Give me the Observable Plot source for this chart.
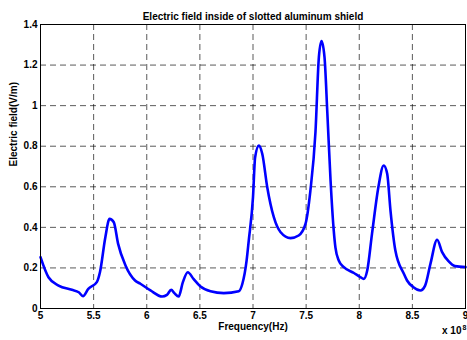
<!DOCTYPE html>
<html>
<head>
<meta charset="utf-8">
<script src="https://cdn.jsdelivr.net/npm/d3@7"></script>
<script src="https://cdn.jsdelivr.net/npm/@observablehq/plot@0.6"></script>
<style>
  html, body { margin: 0; padding: 0; background: #fff; }
</style>
</head>
<body>
<div id="chart"></div>
<script>
// Frequency in units of 1e8 Hz
const freq = [5.00, 5.075, 5.17, 5.295, 5.36, 5.40, 5.45, 5.53, 5.56, 5.61, 5.65, 5.69, 5.73, 5.80, 5.89, 5.94, 6.035,
  6.145, 6.19, 6.23, 6.26, 6.30, 6.34, 6.386, 6.44, 6.506, 6.60, 6.725, 6.866, 6.90, 6.94, 6.96,
  7.00, 7.02, 7.055, 7.087, 7.134, 7.196, 7.26, 7.353, 7.43, 7.494, 7.54, 7.588, 7.62, 7.645, 7.673,
  7.70, 7.73, 7.76, 7.776, 7.807, 7.855, 7.95, 8.01, 8.043, 8.075, 8.12, 8.18, 8.23, 8.263, 8.294,
  8.34, 8.42, 8.45, 8.51, 8.576, 8.62, 8.67, 8.733, 8.78, 8.84, 8.90, 9.00];
// Electric field (V/m)
const field = [0.253, 0.154, 0.113, 0.092, 0.080, 0.061, 0.097, 0.130, 0.180, 0.350, 0.442, 0.425, 0.320, 0.212, 0.138, 0.122, 0.089,
  0.059, 0.067, 0.092, 0.076, 0.059, 0.130, 0.179, 0.146, 0.108, 0.085, 0.076, 0.085, 0.122, 0.237, 0.335,
  0.549, 0.746, 0.803, 0.763, 0.598, 0.450, 0.376, 0.347, 0.360, 0.417, 0.580, 0.870, 1.239, 1.318, 1.239,
  0.960, 0.631, 0.384, 0.300, 0.237, 0.204, 0.175, 0.155, 0.146, 0.187, 0.368, 0.598, 0.705, 0.664, 0.483,
  0.286, 0.171, 0.138, 0.105, 0.089, 0.113, 0.220, 0.339, 0.278, 0.233, 0.209, 0.204];

const xTicks = [5, 5.5, 6, 6.5, 7, 7.5, 8, 8.5, 9];
const xTickLabels = ["5", "5.5", "6", "6.5", "7", "7.5", "8", "8.5", "9"];
const yTicks = [0, 0.2, 0.4, 0.6, 0.8, 1, 1.2, 1.4];
const yTickLabels = ["0", "0.2", "0.4", "0.6", "0.8", "1", "1.2", "1.4"];

const title = "Electric field inside of slotted aluminum shield";
const xLabel = "Frequency(Hz)";
const yLabel = "Electric field(V/m)";

const data = freq.map((f, i) => ({f, e: field[i]}));

const font = "'Liberation Sans', Arial, Helvetica, sans-serif";

const chart = Plot.plot({
  width: 467,
  height: 340,
  marginLeft: 40,
  marginRight: 2,
  marginTop: 24,
  marginBottom: 32,
  style: {fontFamily: font, fontSize: "10px", fontWeight: "bold", background: "#fff", color: "#000"},
  x: {domain: [5, 9]},
  y: {domain: [0, 1.4]},
  marks: [
    Plot.gridX(xTicks.slice(1, -1), {stroke: "#000", strokeOpacity: 0.65, strokeDasharray: "6,4", strokeWidth: 1}),
    Plot.gridY(yTicks.slice(1, -1), {stroke: "#000", strokeOpacity: 0.65, strokeDasharray: "6,4", strokeWidth: 1}),
    Plot.line(data, {x: "f", y: "e", stroke: "#0000ff", strokeWidth: 2.6, curve: "monotone-x"}),
    Plot.frame({stroke: "#000", strokeWidth: 1}),
    Plot.axisX(xTicks, {tickSize: 0, tickPadding: 3, tickFormat: (d, i) => xTickLabels[i], label: null, fontWeight: "bold", fontSize: 10}),
    Plot.axisY(yTicks, {tickSize: 0, tickPadding: 3, tickFormat: (d, i) => yTickLabels[i], label: null, fontWeight: "bold", fontSize: 10}),
    Plot.text([title], {frameAnchor: "top", dy: -12, fontSize: 10, fontWeight: "bold"}),
    Plot.text([xLabel], {frameAnchor: "bottom", dy: 21, fontSize: 10, fontWeight: "bold"}),
    Plot.text([yLabel], {frameAnchor: "left", dx: -27, rotate: -90, fontSize: 10, fontWeight: "bold"}),
    Plot.text(["x 10"], {frameAnchor: "bottom-right", dx: -4, dy: 25, textAnchor: "end", fontSize: 10, fontWeight: "bold"}),
    Plot.text(["8"], {frameAnchor: "bottom-right", dx: -3, dy: 21, textAnchor: "start", fontSize: 7, fontWeight: "bold"})
  ]
});

document.getElementById("chart").appendChild(chart);
</script>
</body>
</html>
